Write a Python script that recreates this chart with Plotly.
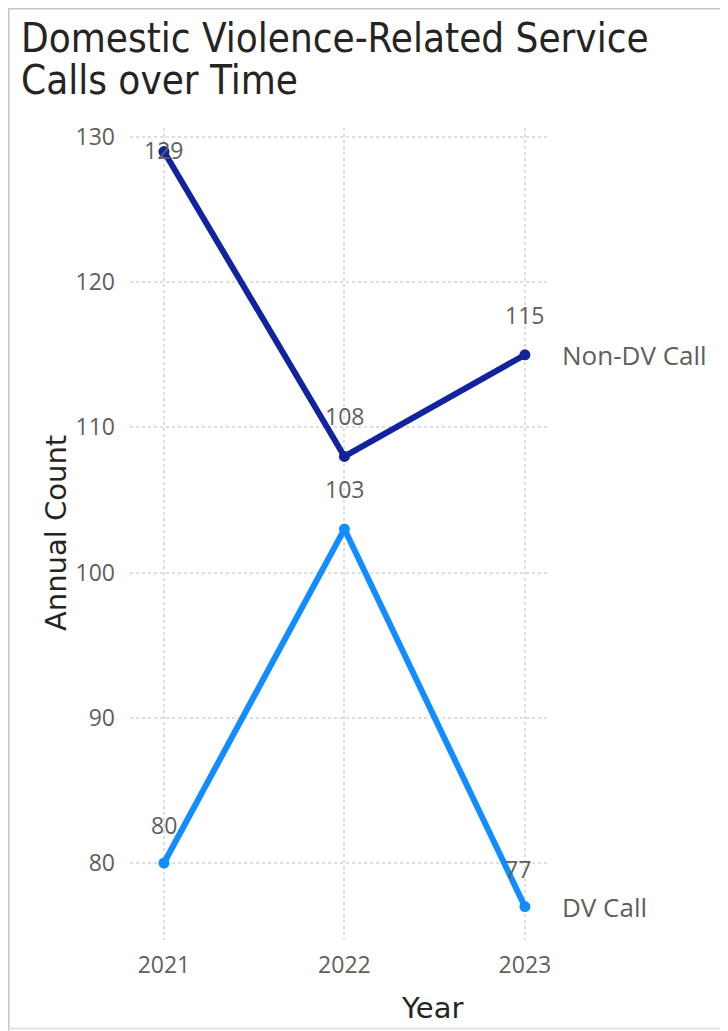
import plotly.graph_objects as go

years = [2021, 2022, 2023]
non_dv = [129, 108, 115]
dv = [80, 103, 77]
series_names = ["Non-DV Call", "DV Call"]
y_ticks = [80, 90, 100, 110, 120, 130]

NAVY = "#12239E"
BLUE = "#118DFF"
GRAY = "#605E5C"
DARK = "#252423"
SEGOE = "Open Sans, Segoe UI, sans-serif"
DINC = "DejaVu Sans Condensed, DejaVu Sans, sans-serif"
DIN = "DejaVu Sans, sans-serif"

OFF = 8  # page body offset
W, H = 728, 1031
L, R, T, B = 122, 186, 120, 99
pw = W - L - R
ph = H - T - B


def px(x):
    return (x - OFF - L) / pw


def py(y):
    return (H - B - (y - OFF)) / ph


fig = go.Figure()
fig.add_trace(go.Scatter(x=years, y=non_dv, mode="lines+markers", name=series_names[0], cliponaxis=False,
                         line=dict(color=NAVY, width=6), marker=dict(size=11, color=NAVY)))
fig.add_trace(go.Scatter(x=years, y=dv, mode="lines+markers", name=series_names[1], cliponaxis=False,
                         line=dict(color=BLUE, width=6), marker=dict(size=11, color=BLUE)))

label_font = dict(family=SEGOE, size=23, color=GRAY)
anns = []
shifts_nd = [(0, 2), (0, 40), (0, 40)]
shifts_dv = [(0, 38), (0, 40), (-7, 38)]
for x, v, (dx, dy) in zip(years, non_dv, shifts_nd):
    anns.append(dict(x=x, y=v, text=str(v), showarrow=False, xshift=dx, yshift=dy, font=label_font))
for x, v, (dx, dy) in zip(years, dv, shifts_dv):
    anns.append(dict(x=x, y=v, text=str(v), showarrow=False, xshift=dx, yshift=dy, font=label_font))
for name, v in zip(series_names, [non_dv[-1], dv[-1]]):
    anns.append(dict(x=years[-1], y=v, text=name, showarrow=False, xanchor="left",
                     xshift=35, font=dict(family=SEGOE, size=26, color=GRAY)))
# title (two lines)
for txt, yc in [("Domestic Violence-Related Service", 38), ("Calls over Time", 80)]:
    anns.append(dict(xref="paper", yref="paper", x=px(19), y=py(yc), xanchor="left", yanchor="middle",
                     showarrow=False, text=txt, font=dict(family=DINC, size=40, color=DARK)))
# axis titles
anns.append(dict(xref="paper", yref="paper", x=px(37), y=py(533), showarrow=False, textangle=-90,
                 text="Annual Count", font=dict(family=DIN, size=29, color=DARK)))
anns.append(dict(xref="paper", yref="paper", x=px(432), xanchor="center", y=py(1027), yanchor="bottom",
                 showarrow=False, text="Year", font=dict(family=DIN, size=29, color=DARK)))

shapes = [
    dict(type="line", xref="paper", yref="paper", x0=px(8.5), x1=px(8.5),
         y0=py(8.5), y1=py(1100), line=dict(color="#C8C6C4", width=2)),
    dict(type="line", xref="paper", yref="paper", x0=px(8.5), x1=px(800),
         y0=py(8.5), y1=py(8.5), line=dict(color="#C8C6C4", width=2)),
    dict(type="line", xref="paper", yref="paper", x0=px(8.5), x1=px(800),
         y0=py(1028.5), y1=py(1028.5), line=dict(color="#E1E1E1", width=2)),
]

fig.update_layout(
    width=W, height=H, margin=dict(l=L, r=R, t=T, b=B),
    paper_bgcolor="white", plot_bgcolor="white", showlegend=False,
    annotations=anns, shapes=shapes,
    xaxis=dict(range=[2020.812, 2023.139], tickvals=years, ticktext=[str(y) for y in years],
               showgrid=True, gridcolor="#DDDDDD", griddash="dot", gridwidth=1.5,
               zeroline=False, showline=False, ticks="", ticklabelstandoff=9,
               tickfont=dict(family=SEGOE, size=23, color=GRAY)),
    yaxis=dict(range=[74.70, 130.62], tickvals=y_ticks,
               showgrid=True, gridcolor="#DDDDDD", griddash="dot", gridwidth=1.5,
               zeroline=False, showline=False, ticks="", ticklabelstandoff=14,
               tickfont=dict(family=SEGOE, size=23, color=GRAY)),
)
fig.write_html("out.html")
